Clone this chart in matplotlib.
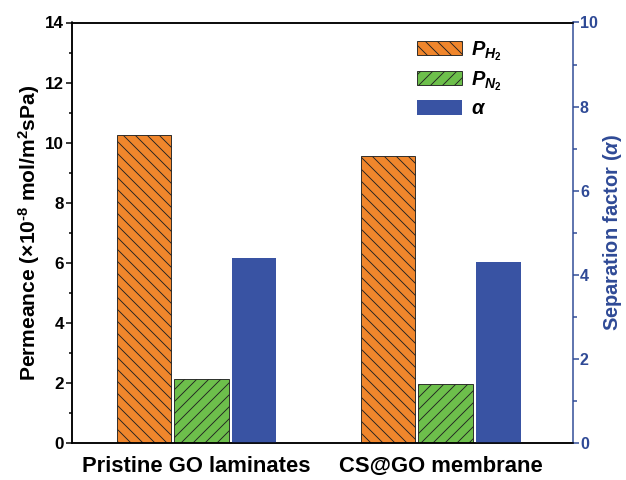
import matplotlib
matplotlib.use("Agg")
import matplotlib.pyplot as plt
import numpy as np

categories = ["Pristine GO laminates", "CS@GO membrane"]
perm_h2 = [10.27, 9.55]
perm_n2 = [2.12, 1.97]
alpha = [4.40, 4.31]

plt.rcParams['font.family'] = ['Liberation Sans', 'DejaVu Sans']
plt.rcParams['font.weight'] = 'bold'
plt.rcParams['mathtext.fontset'] = 'custom'
plt.rcParams['mathtext.it'] = 'Liberation Sans:italic:bold'
plt.rcParams['mathtext.rm'] = 'Liberation Sans:bold'
plt.rcParams['mathtext.bf'] = 'Liberation Sans:bold'
plt.rcParams['hatch.linewidth'] = 0.9

DPI = 72
fig = plt.figure(figsize=(626 / DPI, 480 / DPI), dpi=DPI)
ax = fig.add_axes([72 / 626, 37 / 480, 501 / 626, 420.5 / 480])
ax2 = ax.twinx()

orange = '#F0862C'
green = '#6DBF4B'
blue = '#3953A3'
axblue = '#2F4A96'

x = np.arange(len(categories))
w = 0.225
b1 = ax.bar(x - 0.216, perm_h2, w, color=orange, edgecolor='#222222', linewidth=0.9,
            hatch='\\\\')
b2 = ax.bar(x + 0.02, perm_n2, w, color=green, edgecolor='#222222', linewidth=0.9,
            hatch='//')
b3 = ax2.bar(x + 0.235, alpha, 0.184, color=blue, edgecolor='none')

ax.set_xlim(-0.511, 1.542)
ax.set_ylim(0, 14)
ax2.set_ylim(0, 10)

ax.set_yticks(np.arange(0, 15, 2))
ax.set_yticks(np.arange(1, 14, 2), minor=True)
ax2.set_yticks(np.arange(0, 11, 2))
ax2.set_yticks(np.arange(1, 10, 2), minor=True)

ax.set_xticks(x)
ax.set_xticklabels(categories, fontsize=22, fontweight='bold')
ax.tick_params(axis='x', length=0, pad=13)
ax.tick_params(axis='y', which='major', direction='out', length=6, width=1.5,
               labelsize=17, pad=2)
ax.tick_params(axis='y', which='minor', direction='out', length=3.5, width=1.5)
ax2.tick_params(axis='y', which='major', direction='out', length=6, width=1.5,
                labelsize=16, colors=axblue, pad=1)
ax2.tick_params(axis='y', which='minor', direction='out', length=3.5, width=1.5, colors=axblue)
for t in ax2.get_yticklabels():
    t.set_fontweight('bold')

for s in ax.spines.values():
    s.set_linewidth(1.5)
for s in ax2.spines.values():
    s.set_linewidth(1.5)
ax2.spines['right'].set_color(axblue)
ax.spines['right'].set_visible(False)

ax.set_ylabel(r'Permeance ($\times$10$^{\text{-8}}$ mol/m$^{\text{2}}$sPa)', fontsize=21,
              fontweight='bold', labelpad=3)
ax2.set_ylabel(r'Separation factor ($\alpha$)', fontsize=20, fontweight='bold',
               color=axblue, labelpad=3)

handles = [b1, b2, b3]
labels = [r'$P_{H_2}$', r'$P_{N_2}$', r'$\alpha$']
leg = ax.legend(handles, labels, loc='upper left', bbox_to_anchor=(0.672, 0.98),
                frameon=False, fontsize=20, handlelength=2.25, handleheight=0.75,
                labelspacing=0.33, handletextpad=0.45, borderaxespad=0)

fig.savefig('out.png', dpi=DPI)
